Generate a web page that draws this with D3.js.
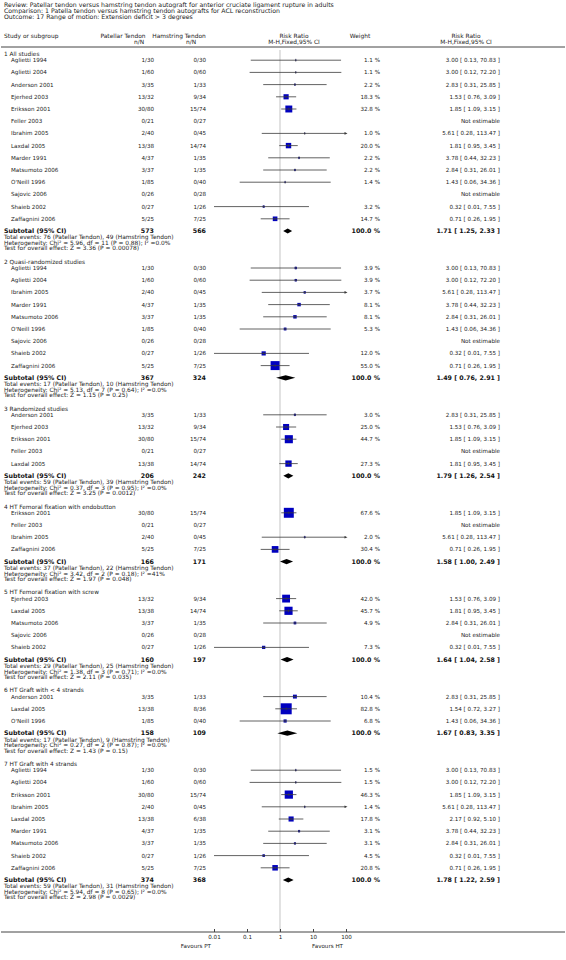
<!DOCTYPE html>
<html><head><meta charset="utf-8">
<script src="https://cdn.jsdelivr.net/npm/d3@7"></script>
<style>body{margin:0;background:#fff}svg{display:block}</style>
</head><body><svg id="c" width="566" height="960"></svg>
<script>
const headerLines = [
  "Review:  Patellar tendon versus hamstring tendon autograft for anterior cruciate ligament rupture in adults",
  "Comparison:  1 Patella tendon versus hamstring tendon autografts for ACL reconstruction",
  "Outcome:  17 Range of motion: Extension deficit > 3 degrees"
];
const groupTitles = [
  "1 All studies",
  "2 Quasi-randomized studies",
  "3 Randomized studies",
  "4 HT Femoral fixation with endobutton",
  "5 HT Femoral fixation with screw",
  "6 HT Graft with < 4 strands",
  "7 HT Graft with 4 strands"
];
// [study, PT n/N, HT n/N, weight %, RR, lower, upper]  (null = not estimable)
const group1 = [
  ["Aglietti 1994","1/30","0/30",1.1,3.00,0.13,70.83],
  ["Aglietti 2004","1/60","0/60",1.1,3.00,0.12,72.20],
  ["Anderson 2001","3/35","1/33",2.2,2.83,0.31,25.85],
  ["Ejerhed 2003","13/32","9/34",18.3,1.53,0.76,3.09],
  ["Eriksson 2001","30/80","15/74",32.8,1.85,1.09,3.15],
  ["Feller 2003","0/21","0/27",null,null,null,null],
  ["Ibrahim 2005","2/40","0/45",1.0,5.61,0.28,113.47],
  ["Laxdal 2005","13/38","14/74",20.0,1.81,0.95,3.45],
  ["Marder 1991","4/37","1/35",2.2,3.78,0.44,32.23],
  ["Matsumoto 2006","3/37","1/35",2.2,2.84,0.31,26.01],
  ["O'Neill 1996","1/85","0/40",1.4,1.43,0.06,34.36],
  ["Sajovic 2006","0/26","0/28",null,null,null,null],
  ["Shaieb 2002","0/27","1/26",3.2,0.32,0.01,7.55],
  ["Zaffagnini 2006","5/25","7/25",14.7,0.71,0.26,1.95]
];
const group2 = [
  ["Aglietti 1994","1/30","0/30",3.9,3.00,0.13,70.83],
  ["Aglietti 2004","1/60","0/60",3.9,3.00,0.12,72.20],
  ["Ibrahim 2005","2/40","0/45",3.7,5.61,0.28,113.47],
  ["Marder 1991","4/37","1/35",8.1,3.78,0.44,32.23],
  ["Matsumoto 2006","3/37","1/35",8.1,2.84,0.31,26.01],
  ["O'Neill 1996","1/85","0/40",5.3,1.43,0.06,34.36],
  ["Sajovic 2006","0/26","0/28",null,null,null,null],
  ["Shaieb 2002","0/27","1/26",12.0,0.32,0.01,7.55],
  ["Zaffagnini 2006","5/25","7/25",55.0,0.71,0.26,1.95]
];
const group3 = [
  ["Anderson 2001","3/35","1/33",3.0,2.83,0.31,25.85],
  ["Ejerhed 2003","13/32","9/34",25.0,1.53,0.76,3.09],
  ["Eriksson 2001","30/80","15/74",44.7,1.85,1.09,3.15],
  ["Feller 2003","0/21","0/27",null,null,null,null],
  ["Laxdal 2005","13/38","14/74",27.3,1.81,0.95,3.45]
];
const group4 = [
  ["Eriksson 2001","30/80","15/74",67.6,1.85,1.09,3.15],
  ["Feller 2003","0/21","0/27",null,null,null,null],
  ["Ibrahim 2005","2/40","0/45",2.0,5.61,0.28,113.47],
  ["Zaffagnini 2006","5/25","7/25",30.4,0.71,0.26,1.95]
];
const group5 = [
  ["Ejerhed 2003","13/32","9/34",42.0,1.53,0.76,3.09],
  ["Laxdal 2005","13/38","14/74",45.7,1.81,0.95,3.45],
  ["Matsumoto 2006","3/37","1/35",4.9,2.84,0.31,26.01],
  ["Sajovic 2006","0/26","0/28",null,null,null,null],
  ["Shaieb 2002","0/27","1/26",7.3,0.32,0.01,7.55]
];
const group6 = [
  ["Anderson 2001","3/35","1/33",10.4,2.83,0.31,25.85],
  ["Laxdal 2005","13/38","8/36",82.8,1.54,0.72,3.27],
  ["O'Neill 1996","1/85","0/40",6.8,1.43,0.06,34.36]
];
const group7 = [
  ["Aglietti 1994","1/30","0/30",1.5,3.00,0.13,70.83],
  ["Aglietti 2004","1/60","0/60",1.5,3.00,0.12,72.20],
  ["Eriksson 2001","30/80","15/74",46.3,1.85,1.09,3.15],
  ["Ibrahim 2005","2/40","0/45",1.4,5.61,0.28,113.47],
  ["Laxdal 2005","13/38","6/38",17.8,2.17,0.92,5.10],
  ["Marder 1991","4/37","1/35",3.1,3.78,0.44,32.23],
  ["Matsumoto 2006","3/37","1/35",3.1,2.84,0.31,26.01],
  ["Shaieb 2002","0/27","1/26",4.5,0.32,0.01,7.55],
  ["Zaffagnini 2006","5/25","7/25",20.8,0.71,0.26,1.95]
];
// [PT total, HT total, RR, lower, upper]
const subtotals = [
  [573,566,1.71,1.25,2.33],
  [367,324,1.49,0.76,2.91],
  [206,242,1.79,1.26,2.54],
  [166,171,1.58,1.00,2.49],
  [160,197,1.64,1.04,2.58],
  [158,109,1.67,0.83,3.35],
  [374,368,1.78,1.22,2.59]
];
const totalEvents = [[76,49],[17,10],[59,39],[37,22],[29,25],[17,9],[59,31]];
// [Chi², df, P, I²]
const heterogeneity = [
  ["5.96","11","0.88","0.0%"],
  ["5.13","7","0.64","0.0%"],
  ["0.37","3","0.95","0.0%"],
  ["3.42","2","0.18","41%"],
  ["1.38","3","0.71","0.0%"],
  ["0.27","2","0.87","0.0%"],
  ["5.94","8","0.65","0.0%"]
];
// [Z, P]
const overallEffect = [
  ["3.36","0.00078"],["1.15","0.25"],["3.25","0.0012"],["1.97","0.048"],
  ["2.11","0.035"],["1.43","0.15"],["2.98","0.0029"]
];
const axisTicks = [0.01,0.1,1,10,100];
const axisLabels = ["0.01","0.1","1","10","100"];
const favourLabels = ["Favours PT","Favours HT"];

const groups = [group1,group2,group3,group4,group5,group6,group7];

const svg = d3.select("#c");
const FONT = "DejaVu Sans, Verdana, sans-serif";
const FS = 5.6;
const X_G = 4, X_S = 11, X_PT = 154, X_HT = 206, X_WT = 380, X_CI = 500;
const ROW = 12.2;
const blue = "#0000c0", lineCol = "#3a3a3a";

const x = d3.scaleLog().domain([0.01,100]).range([214,346]);
const sq = d3.scaleSqrt().domain([0,100]).range([0,12.1]);

function txt(g, xx, yy, s, opt = {}) {
  return g.append("text").attr("x", xx).attr("y", yy).attr("dy", "0.35em")
    .attr("font-family", FONT).attr("font-size", opt.size || FS)
    .attr("font-weight", opt.bold ? "bold" : "normal")
    .attr("text-anchor", opt.anchor || "start")
    .attr("fill", opt.fill || "#222").text(s);
}

// Header
headerLines.forEach((s, i) => txt(svg, X_G, 5 + i * 6, s, {size:6.2}));
const HS = 5.9;
txt(svg, X_G, 36, "Study or subgroup", {size:HS});
txt(svg, 123, 36, "Patellar Tendon", {anchor:"middle", size:HS});
txt(svg, 139, 41.5, "n/N", {anchor:"middle", size:HS});
txt(svg, 179, 36, "Hamstring Tendon", {anchor:"middle", size:HS});
txt(svg, 191, 41.5, "n/N", {anchor:"middle", size:HS});
txt(svg, 294, 36, "Risk Ratio", {anchor:"middle", size:HS});
txt(svg, 294, 41.5, "M-H,Fixed,95% CI", {anchor:"middle", size:HS});
txt(svg, 360, 36, "Weight", {anchor:"middle", size:HS});
txt(svg, 466, 36, "Risk Ratio", {anchor:"middle", size:HS});
txt(svg, 466, 41.5, "M-H,Fixed,95% CI", {anchor:"middle", size:HS});
svg.append("line").attr("x1",1).attr("x2",565).attr("y1",47).attr("y2",47)
  .attr("stroke","#444").attr("stroke-width",1);

const AXIS_Y = 932;
// reference line
svg.append("line").attr("x1", x(1)).attr("x2", x(1)).attr("y1", 50).attr("y2", AXIS_Y)
  .attr("stroke", "#d2d2d2").attr("stroke-width", 1.3);

const fmt2 = d3.format(".2f");
let y = 54;
groups.forEach((rows, gi) => {
  const g = svg.append("g");
  txt(g, X_G, y, groupTitles[gi], {size:5.8});
  let ry = y + 6.2;
  rows.forEach((r, i) => {
    const [name, pt, ht, w, rr, lo, hi] = r;
    txt(g, X_S, ry, name);
    txt(g, X_PT, ry, pt, {anchor:"end"});
    txt(g, X_HT, ry, ht, {anchor:"end"});
    if (rr === null) {
      txt(g, X_CI, ry, "Not estimable", {anchor:"end"});
    } else {
      txt(g, X_WT, ry, w.toFixed(1) + " %", {anchor:"end"});
      txt(g, X_CI, ry, `${fmt2(rr)} [ ${fmt2(lo)}, ${fmt2(hi)} ]`, {anchor:"end"});
      const s = sq(w);
      g.append("rect").attr("x", x(rr) - s/2).attr("y", ry - s/2)
        .attr("width", s).attr("height", s).attr("fill", blue);
      const x1 = x(Math.max(lo, 0.01)), x2 = x(Math.min(hi, 100));
      g.append("line").attr("x1", x1).attr("x2", x2).attr("y1", ry).attr("y2", ry)
        .attr("stroke", lineCol).attr("stroke-width", 0.8);
      g.append("line").attr("x1", x(rr)).attr("x2", x(rr)).attr("y1", ry - 1.4).attr("y2", ry + 1.4)
        .attr("stroke", lineCol).attr("stroke-width", 0.7);
      if (hi > 100) {
        g.append("path").attr("d", `M${x2+1.5},${ry} L${x2-1.5},${ry-1.3} L${x2-1.5},${ry+1.3} Z`)
          .attr("fill", lineCol);
      }
      if (lo < 0.01) {
        g.append("path").attr("d", `M${x1-1.5},${ry} L${x1+1.5},${ry-1.3} L${x1+1.5},${ry+1.3} Z`)
          .attr("fill", lineCol);
      }
    }
    ry += ROW;
  });
  const sy = ry;
  const [tp, th, srr, slo, shi] = subtotals[gi];
  const B = {bold:true, size:6.3, fill:"#111"};
  txt(g, X_G, sy, "Subtotal (95% CI)", B);
  txt(g, X_PT, sy, tp, {...B, anchor:"end"});
  txt(g, X_HT, sy, th, {...B, anchor:"end"});
  txt(g, X_WT, sy, "100.0 %", {...B, anchor:"end"});
  txt(g, X_CI, sy, `${fmt2(srr)} [ ${fmt2(slo)}, ${fmt2(shi)} ]`, {...B, anchor:"end"});
  g.append("path")
    .attr("d", `M${x(slo)},${sy} L${x(srr)},${sy-2.6} L${x(shi)},${sy} L${x(srr)},${sy+2.6} Z`)
    .attr("fill", "#000");
  const [e1, e2] = totalEvents[gi];
  const [chi, df, p, i2] = heterogeneity[gi];
  const [z, pz] = overallEffect[gi];
  const SS = 5.9;
  txt(g, X_G, sy + 6.4, `Total events: ${e1} (Patellar Tendon), ${e2} (Hamstring Tendon)`, {size:SS});
  txt(g, X_G, sy + 11.9, `Heterogeneity: Chi² = ${chi}, df = ${df} (P = ${p}); I² =${i2}`, {size:SS});
  txt(g, X_G, sy + 17.4, `Test for overall effect: Z = ${z} (P = ${pz})`, {size:SS});
  y = sy + 30.8;
});

// Axis
svg.append("line").attr("x1",1).attr("x2",565).attr("y1",AXIS_Y).attr("y2",AXIS_Y)
  .attr("stroke","#444").attr("stroke-width",1);
const axis = d3.axisBottom(x).tickValues(axisTicks)
  .tickFormat((d, i) => axisLabels[i]).tickSizeInner(-3).tickSizeOuter(0).tickPadding(3);
const ag = svg.append("g").attr("transform", `translate(0,${AXIS_Y})`).call(axis);
ag.select(".domain").remove();
ag.selectAll(".tick line").attr("stroke", "#444");
ag.selectAll(".tick text").attr("font-family", FONT).attr("font-size", 5.6).attr("fill", "#222");
txt(svg, 211, 946.5, favourLabels[0], {anchor:"end", size:5.6});
txt(svg, 312, 946.5, favourLabels[1], {anchor:"start", size:5.6});
</script>
</body></html>
